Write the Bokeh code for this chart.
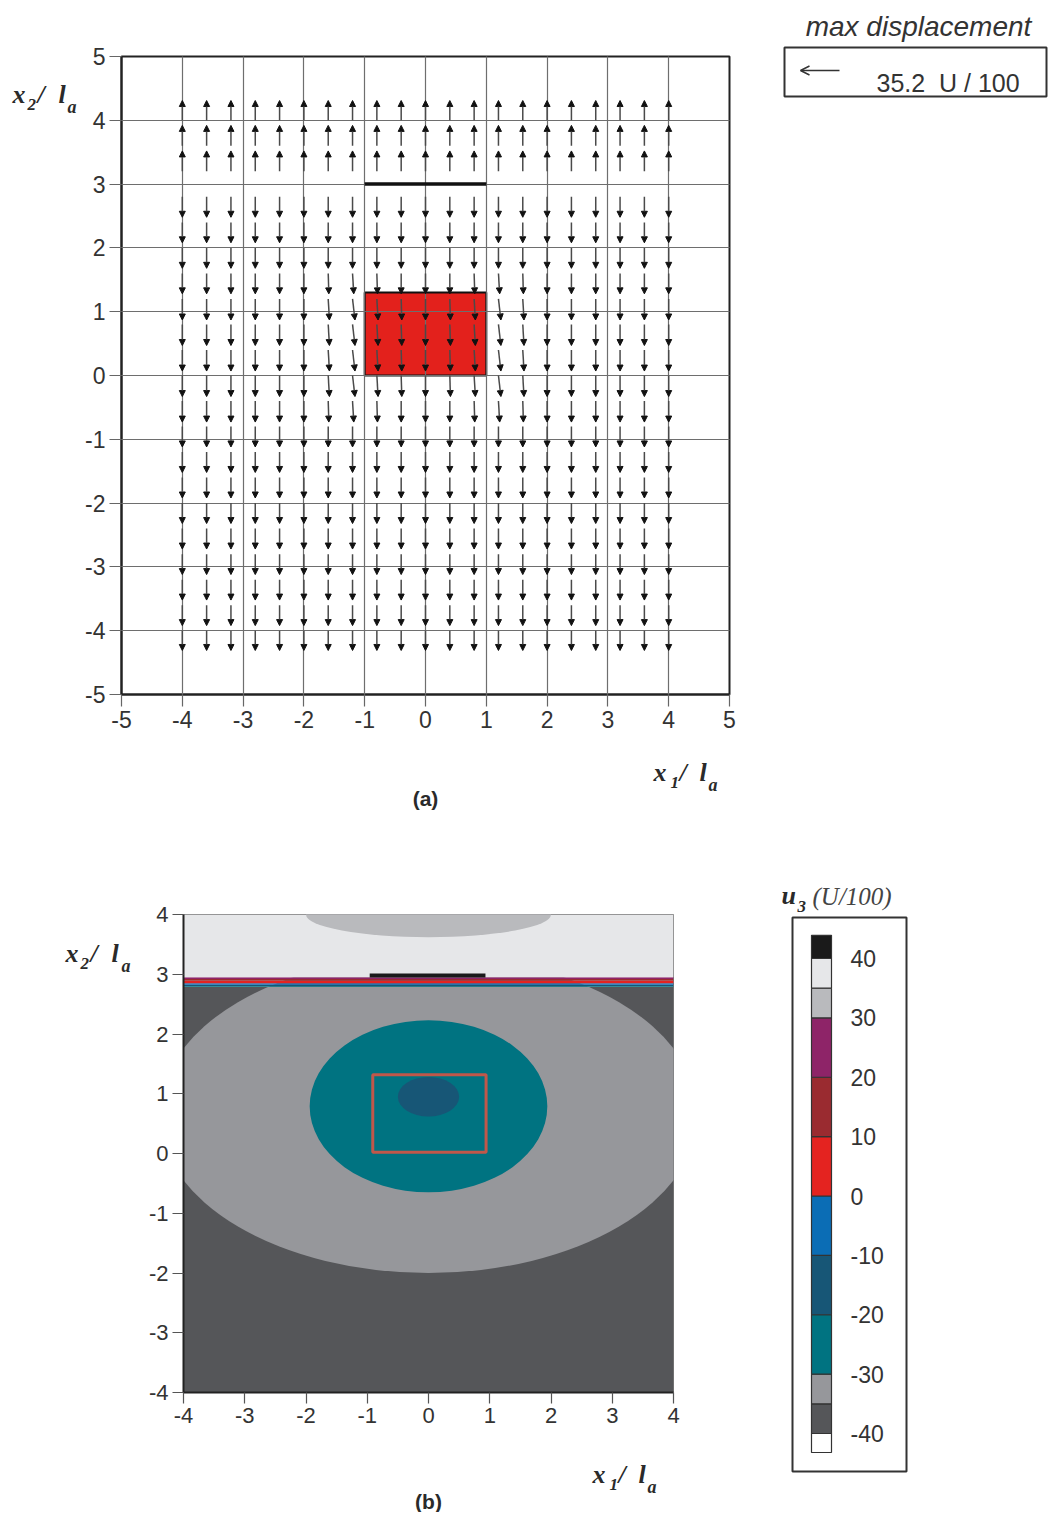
from bokeh.plotting import figure
from bokeh.models import Range1d, Arrow, NormalHead, OpenHead, ColumnDataSource, Label, FixedTicker
from bokeh.layouts import row, column
from bokeh.embed import file_html
from bokeh.resources import INLINE
from bokeh.core.properties import value

# ---------------- panel (a): displacement vectors ----------------
grid_x = [-4.0, -3.6, -3.2, -2.8, -2.4, -2.0, -1.6, -1.2, -0.8, -0.4, 0.0,
          0.4, 0.8, 1.2, 1.6, 2.0, 2.4, 2.8, 3.2, 3.6, 4.0]
grid_y = [-4.0, -3.6, -3.2, -2.8, -2.4, -2.0, -1.6, -1.2, -0.8, -0.4, 0.0,
          0.4, 0.8, 1.2, 1.6, 2.0, 2.4, 2.8, 3.2, 3.6, 4.0]
# vertical displacement u2 (U/100) for each row, bottom row first
u2_rows = [-31, -32, -32, -32, -32, -32, -32, -32, -32, -33, -33,
           -33, -33, -33, -32, -32, -32, -32, 32, 32, 31]
# horizontal displacement u1 (U/100) near the inclusion (other points ~0)
tilt_y = [-0.4, 0.0, 0.4, 0.8, 1.2, 1.6]
tilt_x = [-1.6, -1.2, -0.8, -0.4, 0.0, 0.4, 0.8, 1.2, 1.6]
u1_tilt = [
    [1, 2, 1, 0, 0, 0, 1, 2, 1],
    [2, 4, 2, 1, 0, 1, 2, 4, 2],
    [2, 4, 2, 1, 0, 1, 2, 4, 2],
    [2, 4, 2, 1, 0, 1, 2, 4, 2],
    [2, 4, 2, 1, 0, 1, 2, 4, 2],
    [1, 2, 1, 0, 0, 0, 1, 2, 1],
]
arrow_scale = 0.01            # l_a per U/100
max_disp = 35.2
incl_x = [-1.0, 1.0]
incl_y = [0.0, 1.3]
crack_x = [-1.0, 1.0]
crack_y = [3.0, 3.0]
axis_ticks_a = [-5, -4, -3, -2, -1, 0, 1, 2, 3, 4, 5]
grid_ticks_a = [-4, -3, -2, -1, 0, 1, 2, 3, 4]

# ---------------- panel (b): u3 contours ----------------
cb_levels = [-43.2, -40, -35, -30, -20, -10, 0, 10, 20, 30, 35, 40, 43.9]
cb_colors = ["#ffffff", "#555659", "#96979b", "#007381", "#175676", "#0b6db5",
             "#e42320", "#9a2b30", "#8e2468", "#b9babd", "#e6e7e9", "#1a1a1a"]
cb_tick_vals = [-40, -30, -20, -10, 0, 10, 20, 30, 40]
cb_tick_labels = ["-40", "-30", "-20", "-10", "0", "10", "20", "30", "40"]
# contour regions: (band index, centre x, centre y, width, height)
ell_band = [2, 3, 4, 9]
ell_cx = [0.0, 0.0, 0.0, 0.0]
ell_cy = [0.655, 0.79, 0.95, 4.0]
ell_w = [8.8, 3.88, 1.0, 4.0]
ell_h = [5.31, 2.88, 0.66, 0.76]
# thin bands along x2 = 3
stripe_edges = [2.79, 2.805, 2.825, 2.85, 2.89, 2.92, 2.95]
stripe_band = [3, 4, 5, 6, 7, 8]
low_band_top = 2.79
high_band_bottom = 2.95
rect_b_x = [-0.91, 0.94]
rect_b_y = [0.02, 1.32]
crack_b_x = [-0.96, 0.93]
crack_b_y = [2.98, 2.98]
axis_ticks_b = [-4, -3, -2, -1, 0, 1, 2, 3, 4]

SANS = "Liberation Sans"
SERIF = "Liberation Serif"
INK = "#2a2a2a"
NB = "\u00a0"


def lab(p, x, y, text, size, font=SERIF, style="bold italic", align="left", color=INK):
    p.add_layout(Label(x=x, y=y, text=text, text_font=font, text_font_size=f"{size}px",
                       text_font_style=style, text_align=align, text_baseline="alphabetic",
                       text_color=color))


def strip(x0, x1, y0, y1, bl=0, br=0):
    # a text panel whose data coordinates are page pixels
    f = figure(frame_width=x1 - x0, frame_height=y1 - y0, x_range=Range1d(x0, x1),
               y_range=Range1d(y1, y0), min_border=0, min_border_left=bl, min_border_right=br,
               x_axis_type=None, y_axis_type=None, toolbar_location=None, output_backend="svg")
    f.outline_line_color = None
    return f


def style_axis(ax, ticks, tick_color, size, tick_out):
    ax.ticker = FixedTicker(ticks=ticks)
    ax.major_label_overrides = {t: str(t) for t in ticks}
    ax.major_tick_out = tick_out
    ax.major_tick_in = 0
    ax.minor_tick_line_color = None
    ax.major_tick_line_color = tick_color
    ax.major_tick_line_width = 1.2
    ax.axis_line_color = "#222222"
    ax.axis_line_width = 2
    ax.major_label_text_font = SANS
    ax.major_label_text_font_size = f"{size}px"
    ax.major_label_text_color = "#333333"
    ax.major_label_standoff = 4


# ===== figure (a) =====
p1 = figure(frame_width=608, frame_height=638, x_range=Range1d(-5, 5), y_range=Range1d(-5, 5),
            min_border_left=40, min_border_right=20, min_border_top=56, min_border_bottom=46,
            toolbar_location=None, output_backend="svg")
p1.outline_line_color = "#222222"
p1.outline_line_width = 2
style_axis(p1.xaxis[0], axis_ticks_a, "#666666", 23, 12)
style_axis(p1.yaxis[0], axis_ticks_a, "#666666", 23, 12)
p1.xgrid.ticker = FixedTicker(ticks=grid_ticks_a)
p1.ygrid.ticker = FixedTicker(ticks=grid_ticks_a)
p1.grid.grid_line_color = "#6e6e6e"
p1.grid.grid_line_width = 1.2
p1.grid.level = "annotation"

p1.quad(left=incl_x[0], right=incl_x[1], bottom=incl_y[0], top=incl_y[1],
        fill_color="#e3211c", line_color="#111111", line_width=2)
crack_r = p1.line(x=crack_x, y=crack_y, line_color="#111111", line_width=3.5)
crack_r.level = "overlay"

xs0, ys0, xs1, ys1 = [], [], [], []
for j, yv in enumerate(grid_y):
    for i, xv in enumerate(grid_x):
        u1 = 0.0
        if yv in tilt_y and xv in tilt_x:
            u1 = u1_tilt[tilt_y.index(yv)][tilt_x.index(xv)]
        xs0.append(xv)
        ys0.append(yv)
        xs1.append(xv + u1 * arrow_scale)
        ys1.append(yv + u2_rows[j] * arrow_scale)
arr_src = ColumnDataSource(dict(x0=xs0, y0=ys0, x1=xs1, y1=ys1))
p1.add_layout(Arrow(end=NormalHead(size=6, fill_color="#111111", line_color="#111111", line_width=1),
                    x_start="x0", y_start="y0", x_end="x1", y_end="y1", source=arr_src,
                    line_color="#4a4a4a", line_width=1.5))

# text panels around (a)
a_left = strip(0, 81, 0, 740)
lab(a_left, 12, 94, "x", 26)
lab(a_left, 27, 104, "2", 17)
lab(a_left, 37, 94, "/", 26)
lab(a_left, 58, 94, "l", 26)
lab(a_left, 67, 106, "a", 18)

a_bottom = strip(121, 729, 740, 810, bl=40, br=20)
lab(a_bottom, 653, 772, "x", 26)
lab(a_bottom, 670, 782, "1", 17)
lab(a_bottom, 679, 772, "/", 26)
lab(a_bottom, 699, 772, "l", 26)
lab(a_bottom, 708, 784, "a", 18)
lab(a_bottom, 425, 798, "(a)", 21, font=SANS, style="bold", align="center")

# legend box (max displacement)
p2 = strip(749, 1050, 0, 100)
p2.quad(left=784, right=1046, top=47, bottom=96, fill_color=None, line_color="#333333", line_width=2)
p2.add_layout(Arrow(end=OpenHead(size=9, line_color="#333333", line_width=1.5),
                    x_start=839, y_start=70, x_end=800, y_end=70,
                    line_color="#333333", line_width=1.5))
lab(p2, 876, 82, f"{max_disp}{NB}{NB}U / 100", 25, font=SANS, style="normal", color="#333333")
lab(p2, 918, 26, "max displacement", 28, font=SANS, style="italic", align="center", color="#333333")

# ===== figure (b) =====
p3 = figure(frame_width=490, frame_height=478, x_range=Range1d(-4, 4), y_range=Range1d(-4, 4),
            min_border_left=48, min_border_right=30, min_border_top=104, min_border_bottom=48,
            toolbar_location=None, output_backend="svg")
p3.outline_line_color = "#7a7a7a"
p3.outline_line_width = 1
p3.grid.visible = False
style_axis(p3.xaxis[0], axis_ticks_b, "#555555", 22, 11)
style_axis(p3.yaxis[0], axis_ticks_b, "#555555", 22, 11)

p3.quad(left=-4, right=4, bottom=-4, top=low_band_top, fill_color=cb_colors[1], line_color=None)
for k in range(3):
    p3.ellipse(x=ell_cx[k], y=ell_cy[k], width=ell_w[k], height=ell_h[k],
               fill_color=cb_colors[ell_band[k]], line_color=None)
p3.quad(left=-4, right=4, bottom=stripe_edges[:-1], top=stripe_edges[1:],
        fill_color=[cb_colors[b] for b in stripe_band], line_color=None)
p3.quad(left=-4, right=4, bottom=high_band_bottom, top=4, fill_color=cb_colors[10], line_color=None)
p3.ellipse(x=ell_cx[3], y=ell_cy[3], width=ell_w[3], height=ell_h[3],
           fill_color=cb_colors[ell_band[3]], line_color=None)
p3.quad(left=rect_b_x[0], right=rect_b_x[1], bottom=rect_b_y[0], top=rect_b_y[1],
        fill_color=None, line_color="#c0574a", line_width=3)
p3.line(x=crack_b_x, y=crack_b_y, line_color="#1a1a1a", line_width=4)

b_left = strip(0, 135, 810, 1440)
lab(b_left, 65, 953, "x", 26)
lab(b_left, 80, 963, "2", 17)
lab(b_left, 90, 953, "/", 26)
lab(b_left, 111, 953, "l", 26)
lab(b_left, 121, 965, "a", 18)

b_bottom = strip(183, 673, 1440, 1512, bl=48, br=30)
lab(b_bottom, 592, 1474, "x", 26)
lab(b_bottom, 609, 1484, "1", 17)
lab(b_bottom, 618, 1474, "/", 26)
lab(b_bottom, 638, 1474, "l", 26)
lab(b_bottom, 647, 1486, "a", 18)
lab(b_bottom, 428, 1501, "(b)", 21, font=SANS, style="bold", align="center")

# ===== colour bar =====
cb_px_per_unit = (1433 - 958) / 80.0


def cb_val(py):
    return 40 - (py - 958) / cb_px_per_unit


p4 = figure(frame_width=347, frame_height=680, x_range=Range1d(703, 1050),
            y_range=Range1d(cb_val(1490), cb_val(810)), min_border=0,
            x_axis_type=None, y_axis_type=None, toolbar_location=None, output_backend="svg")
p4.outline_line_color = None
p4.quad(left=792, right=906, top=cb_val(917), bottom=cb_val(1471), fill_color=None,
        line_color="#333333", line_width=2)
p4.quad(left=811, right=831, bottom=cb_levels[:-1], top=cb_levels[1:],
        fill_color=cb_colors, line_color="#333333", line_width=1.2)
p4.text(x=850, y=cb_tick_vals, text=cb_tick_labels, text_font=value(SANS),
        text_font_size="23px", text_color="#333333", text_baseline="middle", text_align="left")
lab(p4, 781, cb_val(895), "u", 26)
lab(p4, 797, cb_val(906), "3", 17)
lab(p4, 812, cb_val(896), "(U/100)", 25, style="italic", color="#444444")

layout = column(row(a_left, column(p1, a_bottom), p2),
                row(b_left, column(p3, b_bottom), p4))
open("out.html", "w").write(file_html(layout, INLINE))
